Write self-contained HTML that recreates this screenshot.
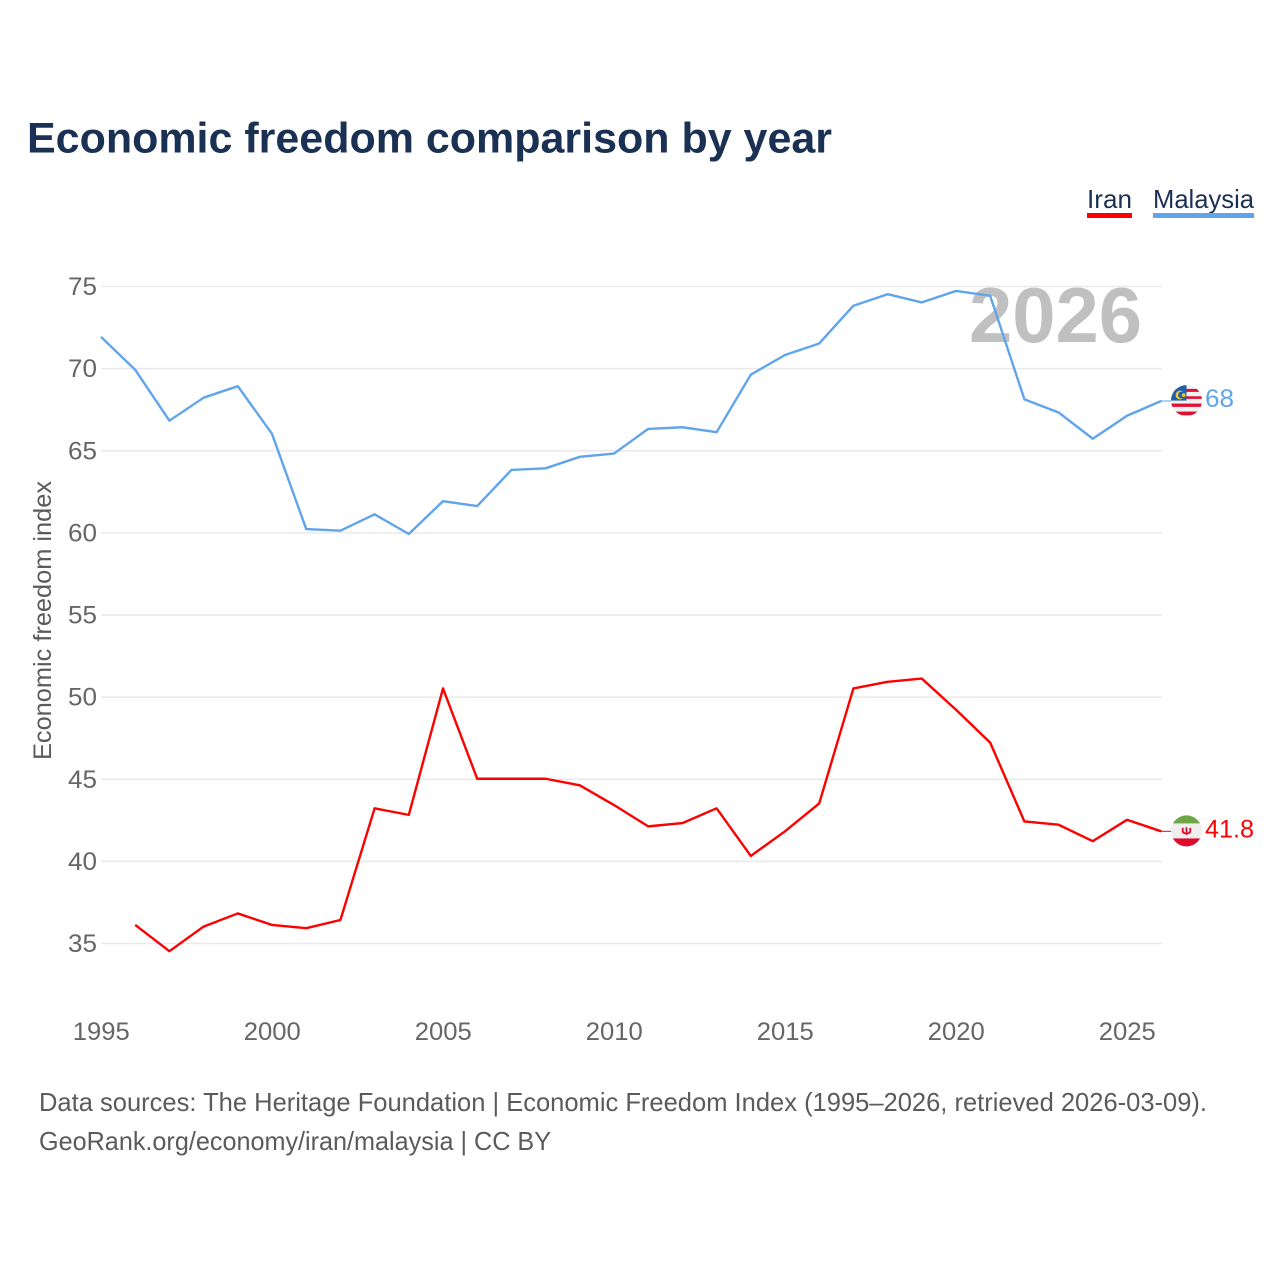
<!DOCTYPE html>
<html lang="en">
<head>
<meta charset="utf-8">
<title>Economic freedom comparison by year</title>
<style>
html,body{margin:0;padding:0;background:#fff;}
svg{display:block;font-family:"Liberation Sans",sans-serif;}
</style>
</head>
<body>
<svg id="chart" width="1280" height="1280" viewBox="0 0 1280 1280" xmlns="http://www.w3.org/2000/svg">
  <defs>
    <clipPath id="flag-clip-my"><circle cx="0" cy="0" r="15.5"/></clipPath>
    <clipPath id="flag-clip-ir"><circle cx="0" cy="0" r="15.5"/></clipPath>
  </defs>
  <rect x="0" y="0" width="1280" height="1280" fill="#fff"/>
  <text x="27" y="152.5" font-size="43" font-weight="700" fill="#1a3154" textLength="805" lengthAdjust="spacingAndGlyphs">Economic freedom comparison by year</text>

  <g>
    <g>
      <text x="1087" y="208" font-size="26" fill="#1a3154" textLength="45" lengthAdjust="spacingAndGlyphs">Iran</text>
      <rect x="1087" y="213" width="45" height="5" fill="#ff0000"/>
    </g>
    <g>
      <text x="1153" y="208" font-size="26" fill="#1a3154" textLength="101" lengthAdjust="spacingAndGlyphs">Malaysia</text>
      <rect x="1153" y="213" width="101" height="5" fill="#60a5ec"/>
    </g>
  </g>

  <g id="grid"></g>
  <g id="yticks"></g>
  <g id="xticks"></g>

  <text transform="translate(51,760) rotate(-90)" font-size="25" fill="#5b5b5b" textLength="279" lengthAdjust="spacingAndGlyphs">Economic freedom index</text>

  <text x="969" y="342" font-size="78" font-weight="700" fill="#c0c0c0" textLength="173" lengthAdjust="spacingAndGlyphs">2026</text>

  <g id="series"></g>

  <g id="flag-malaysia">
    <g clip-path="url(#flag-clip-my)">
      <rect x="-16" y="-16" width="32" height="32" fill="#f1f1f1"/>
      <rect x="-16" y="-11.7" width="32" height="3" fill="#dd1133"/>
      <rect x="-16" y="-4.3" width="32" height="2.6" fill="#dd1133"/>
      <rect x="-16" y="3" width="32" height="3.3" fill="#dd1133"/>
      <rect x="-16" y="11" width="32" height="3.7" fill="#dd1133"/>
      <rect x="-16" y="-16" width="16" height="16" fill="#2160a8"/>
      <circle cx="-6.5" cy="-5.5" r="4.4" fill="#f5c52f"/>
      <circle cx="-5" cy="-5.5" r="3.4" fill="#2160a8"/>
      <circle cx="-2.8" cy="-5.5" r="1.8" fill="#f5c52f"/>
    </g>
  </g>
  <g id="flag-iran">
    <g clip-path="url(#flag-clip-ir)">
      <rect x="-16" y="-16" width="32" height="32" fill="#efefef"/>
      <rect x="-16" y="-16" width="32" height="8.5" fill="#6da544"/>
      <rect x="-16" y="7.5" width="32" height="9" fill="#dd0a2c"/>
      <path d="M-3.8,-3 V0 Q-3.8,2.6 0,2.6 Q3.8,2.6 3.8,0 V-3 M0,-3.5 V4" fill="none" stroke="#dd0a2c" stroke-width="1.8"/>
    </g>
  </g>

  <text x="39" y="1111" font-size="26" fill="#5b5b5b" textLength="1168" lengthAdjust="spacingAndGlyphs">Data sources: The Heritage Foundation | Economic Freedom Index (1995–2026, retrieved 2026-03-09).</text>
  <text x="39" y="1150" font-size="26" fill="#5b5b5b" textLength="512" lengthAdjust="spacingAndGlyphs">GeoRank.org/economy/iran/malaysia | CC BY</text>
</svg>

<script>
const years = [1995,1996,1997,1998,1999,2000,2001,2002,2003,2004,2005,2006,2007,2008,2009,2010,2011,2012,2013,2014,2015,2016,2017,2018,2019,2020,2021,2022,2023,2024,2025,2026];
const malaysiaValues = [71.9,69.9,66.8,68.2,68.9,66.0,60.2,60.1,61.1,59.9,61.9,61.6,63.8,63.9,64.6,64.8,66.3,66.4,66.1,69.6,70.8,71.5,73.8,74.5,74.0,74.7,74.4,68.1,67.3,65.7,67.1,68.0];
const iranValues = [null,36.1,34.5,36.0,36.8,36.1,35.9,36.4,43.2,42.8,50.5,45.0,45.0,45.0,44.6,43.4,42.1,42.3,43.2,40.3,41.8,43.5,50.5,50.9,51.1,49.2,47.2,42.4,42.2,41.2,42.5,41.8];
const yTickValues = [35,40,45,50,55,60,65,70,75];
const xTickValues = [1995,2000,2005,2010,2015,2020,2025];

const SVG_NS = 'http://www.w3.org/2000/svg';
const xScale = function (year) { return 101 + (year - 1995) * (1161.2 - 101) / (2026 - 1995); };
const yScale = function (value) { return 943 - (value - 35) * (943 - 286) / (75 - 35); };

function make(tag, attrs, parent, text) {
  const el = document.createElementNS(SVG_NS, tag);
  Object.keys(attrs).forEach(function (k) { el.setAttribute(k, attrs[k]); });
  if (text !== undefined) el.textContent = text;
  parent.appendChild(el);
  return el;
}

const gridGroup = document.getElementById('grid');
const yTickGroup = document.getElementById('yticks');
const xTickGroup = document.getElementById('xticks');
const seriesGroup = document.getElementById('series');

yTickValues.forEach(function (v) {
  const line = make('line', { x1: 101, x2: 1162, y1: yScale(v) + 0.5, y2: yScale(v) + 0.5, stroke: '#e9e9ec', 'stroke-width': 1.5 }, gridGroup);
  
  
  const label = make('text', { x: 97, y: yScale(v) + 9, 'text-anchor': 'end', 'font-size': 25, fill: '#666666', textLength: 29, lengthAdjust: 'spacingAndGlyphs' }, yTickGroup, String(v));
  
  
});

xTickValues.forEach(function (year) {
  const label = make('text', { x: xScale(year) + 0.3, y: 1040, 'text-anchor': 'middle', 'font-size': 25, fill: '#666666', textLength: 57, lengthAdjust: 'spacingAndGlyphs' }, xTickGroup, String(year));
  
  
});

function linePath(values) {
  let d = '';
  let started = false;
  values.forEach(function (v, i) {
    if (v === null) { started = false; return; }
    d += (started ? 'L' : 'M') + xScale(years[i]).toFixed(2) + ',' + yScale(v).toFixed(2);
    started = true;
  });
  return d;
}

function drawSeries(values, color, key, flagId) {
  const path = make('path', { d: linePath(values), fill: 'none', stroke: color, 'stroke-width': 2.4, 'stroke-linejoin': 'round' }, seriesGroup);
  
  

  const last = values[values.length - 1];
  const endY = yScale(last);
  const connector = make('line', { x1: 1161, x2: 1172, y1: endY, y2: endY, stroke: color, 'stroke-width': 1 }, seriesGroup);
  
  

  const label = make('text', { x: 1205, y: endY + 6, 'font-size': 25, fill: color, lengthAdjust: 'spacingAndGlyphs', textLength: (String(last).length > 2 ? 49 : 29) }, seriesGroup, String(last));
  
  

  document.getElementById(flagId).setAttribute('transform', 'translate(1186.5,' + (endY - 0.4) + ')');
}

drawSeries(iranValues, '#ff0000', 'iran', 'flag-iran');
drawSeries(malaysiaValues, '#60a5ec', 'malaysia', 'flag-malaysia');
</script>
</body>
</html>
